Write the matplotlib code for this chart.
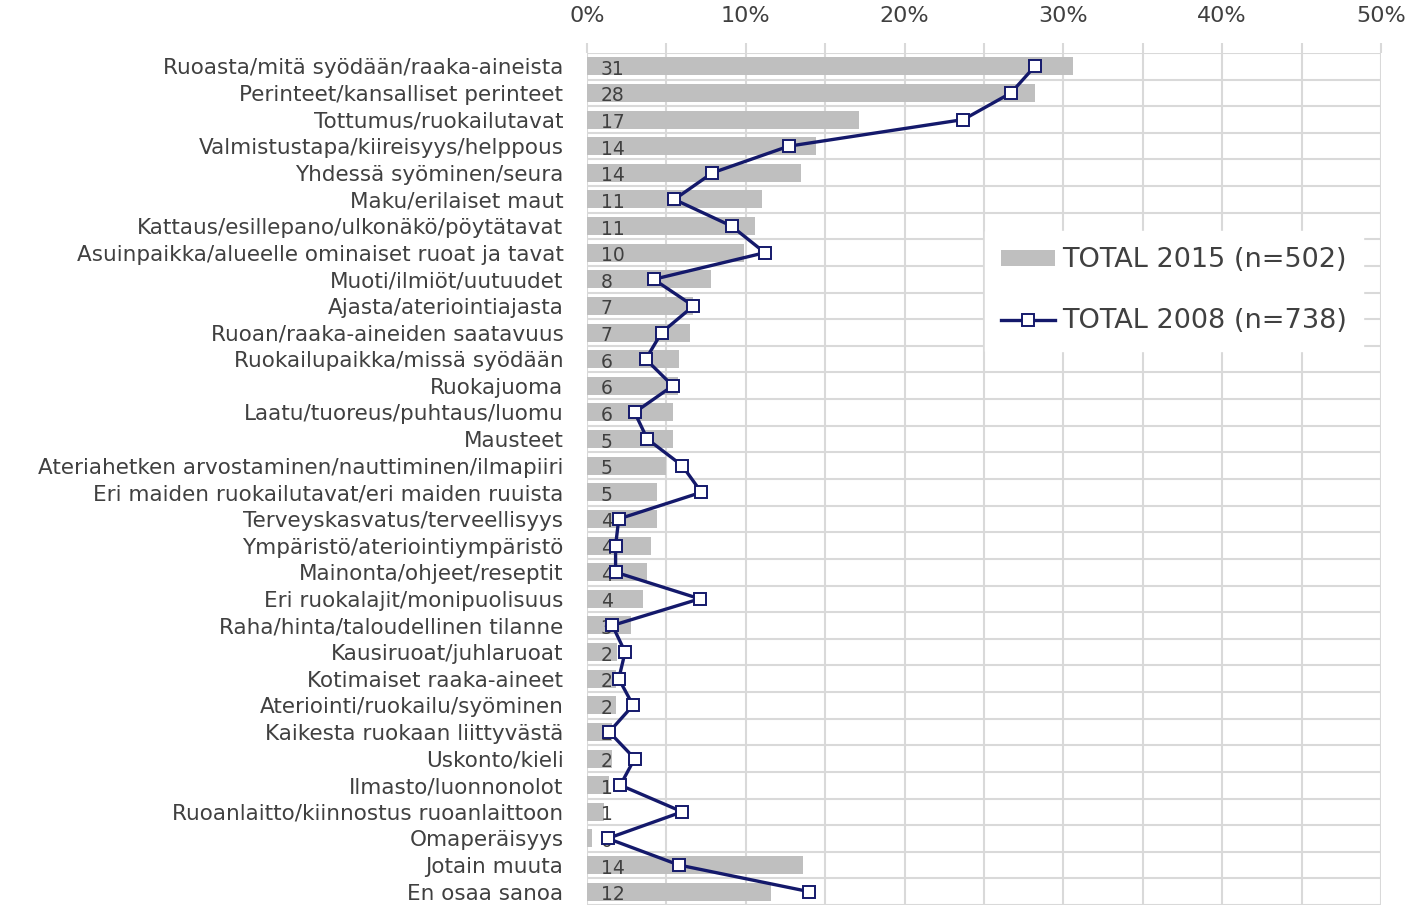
import matplotlib
matplotlib.use("Agg")
import matplotlib.pyplot as plt
from matplotlib.ticker import MultipleLocator, FuncFormatter

categories = [
    "Ruoasta/mitä syödään/raaka-aineista",
    "Perinteet/kansalliset perinteet",
    "Tottumus/ruokailutavat",
    "Valmistustapa/kiireisyys/helppous",
    "Yhdessä syöminen/seura",
    "Maku/erilaiset maut",
    "Kattaus/esillepano/ulkonäkö/pöytätavat",
    "Asuinpaikka/alueelle ominaiset ruoat ja tavat",
    "Muoti/ilmiöt/uutuudet",
    "Ajasta/ateriointiajasta",
    "Ruoan/raaka-aineiden saatavuus",
    "Ruokailupaikka/missä syödään",
    "Ruokajuoma",
    "Laatu/tuoreus/puhtaus/luomu",
    "Mausteet",
    "Ateriahetken arvostaminen/nauttiminen/ilmapiiri",
    "Eri maiden ruokailutavat/eri maiden ruuista",
    "Terveyskasvatus/terveellisyys",
    "Ympäristö/ateriointiympäristö",
    "Mainonta/ohjeet/reseptit",
    "Eri ruokalajit/monipuolisuus",
    "Raha/hinta/taloudellinen tilanne",
    "Kausiruoat/juhlaruoat",
    "Kotimaiset raaka-aineet",
    "Ateriointi/ruokailu/syöminen",
    "Kaikesta ruokaan liittyvästä",
    "Uskonto/kieli",
    "Ilmasto/luonnonolot",
    "Ruoanlaitto/kiinnostus ruoanlaittoon",
    "Omaperäisyys",
    "Jotain muuta",
    "En osaa sanoa",
]

total_2015 = [30.6, 28.2, 17.1, 14.4, 13.5, 11.0, 10.6, 9.9, 7.8, 6.7, 6.5, 5.8,
              5.7, 5.4, 5.4, 5.0, 4.4, 4.4, 4.0, 3.8, 3.5, 2.8, 1.9, 1.8, 1.8,
              1.6, 1.6, 1.4, 1.1, 0.3, 13.6, 11.6]
labels_2015 = ["31", "28", "17", "14", "14", "11", "11", "10", "8", "7", "7", "6",
               "6", "6", "5", "5", "5", "4", "4", "4", "4", "3", "2", "2", "2",
               "2", "2", "1", "1", "0", "14", "12"]
total_2008 = [28.2, 26.7, 23.7, 12.7, 7.9, 5.5, 9.1, 11.2, 4.2, 6.7, 4.7, 3.7,
              5.4, 3.0, 3.8, 6.0, 7.2, 2.0, 1.8, 1.8, 7.1, 1.6, 2.4, 2.0, 2.9,
              1.4, 3.0, 2.1, 6.0, 1.3, 5.8, 14.0]

legend_2015 = "TOTAL 2015 (n=502)"
legend_2008 = "TOTAL 2008 (n=738)"

plt.rcParams['font.family'] = ['DejaVu Sans']

fig = plt.figure(figsize=(14.14, 9.05), dpi=100)
ax = fig.add_axes([587/1414, 0/905, (1381-587)/1414, (905-53)/905])

n = len(categories)
ypos = list(range(n))

bar_color = "#bfbfbf"
line_color = "#14196b"
grid_color = "#d9d9d9"
text_color = "#404040"

bars = ax.barh(ypos, total_2015, height=0.68, color=bar_color, zorder=2, label=legend_2015)
line, = ax.plot(total_2008, ypos, color=line_color, lw=2.4, marker='s', markersize=8,
                markerfacecolor='white', markeredgecolor=line_color, markeredgewidth=1.4,
                zorder=4, label=legend_2008)

for y, lab in zip(ypos, labels_2015):
    ax.annotate(lab, xy=(0, y), xytext=(14, -3), textcoords='offset pixels',
                ha='left', va='center', fontsize=13.5, color=text_color, zorder=3)

ax.set_xlim(0, 50)
ax.set_ylim(n - 0.5, -0.5)
ax.xaxis.set_major_locator(MultipleLocator(10))
ax.xaxis.set_minor_locator(MultipleLocator(5))
ax.xaxis.set_major_formatter(FuncFormatter(lambda v, p: f"{int(v)}%"))
ax.xaxis.tick_top()
ax.tick_params(axis='x', which='both', length=7, color=grid_color, width=1.5,
               labelsize=16, labelcolor=text_color, pad=12.5)
ax.tick_params(axis='y', length=0, labelsize=15.5, labelcolor=text_color, pad=17)
ax.set_yticks(ypos)
ax.set_yticklabels(categories)

for v in range(0, 51, 5):
    ax.axvline(v, color=grid_color, lw=1.5, zorder=1)
for b in range(n + 1):
    ax.axhline(b - 0.5, color=grid_color, lw=1.5, zorder=1)

for s in ax.spines.values():
    s.set_visible(False)

leg = ax.legend([bars, line], [legend_2015, legend_2008],
                loc='upper left', bbox_to_anchor=((985-587)/(1381-587), 1 - (231-53)/(905-53)),
                frameon=True, fontsize=19.5, handlelength=2.0, handleheight=0.55,
                labelspacing=1.3, borderpad=0.6, handletextpad=0.25, borderaxespad=0)
leg.get_frame().set_facecolor('white')
leg.get_frame().set_edgecolor('white')
leg.get_frame().set_alpha(1)
leg.get_frame().set_boxstyle('square', pad=0)
for t in leg.get_texts():
    t.set_color(text_color)

fig.savefig("out.png", dpi=100)
